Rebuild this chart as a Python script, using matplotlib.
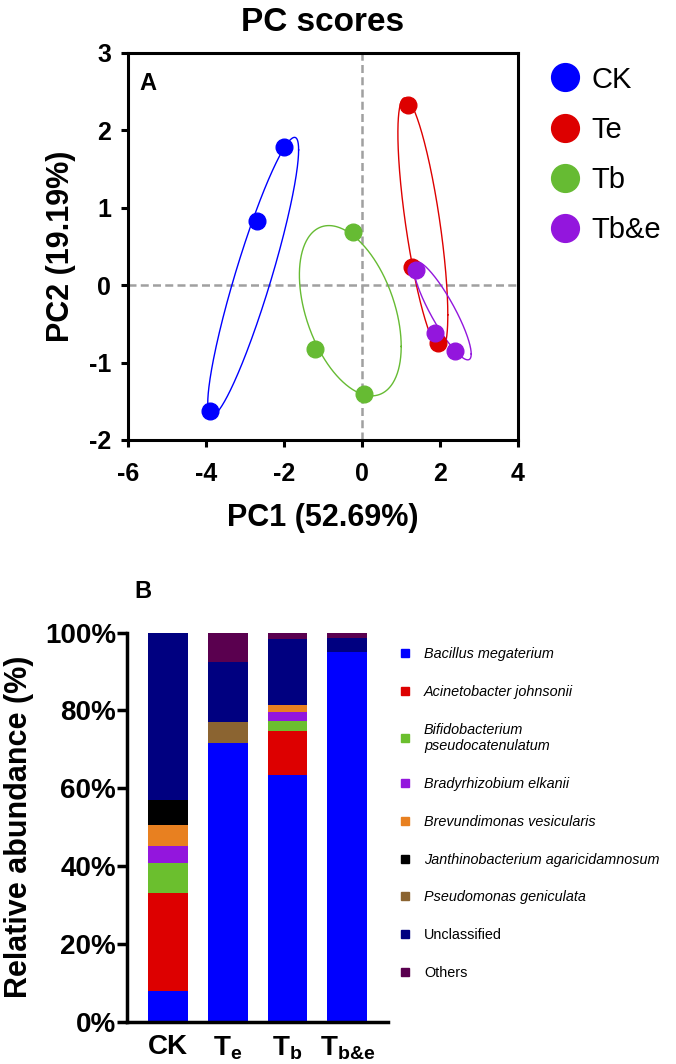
import numpy as np
import matplotlib.pyplot as plt
from matplotlib.lines import Line2D

# ---- data: PCA scores (panel A)
groups = ['CK', 'Te', 'Tb', 'Tb&e']
group_colors = ['#0000FF', '#DD0000', '#66BB33', '#9316DD']
pc1 = {
    'CK': [-1.99, -2.68, -3.90],
    'Te': [1.19, 1.28, 1.96],
    'Tb': [-0.23, -1.21, 0.04],
    'Tb&e': [1.39, 1.88, 2.39],
}
pc2 = {
    'CK': [1.78, 0.83, -1.62],
    'Te': [2.33, 0.24, -0.75],
    'Tb': [0.69, -0.83, -1.40],
    'Tb&e': [0.19, -0.62, -0.85],
}
# ellipses: centre, half extents along x / y, correlation
ell_cx = [-2.79, 1.56, -0.30, 2.06]
ell_cy = [0.11, 0.79, -0.33, -0.33]
ell_sx = [1.165, 0.64, 1.305, 0.74]
ell_sy = [1.80, 1.63, 1.10, 0.635]
ell_r = [0.91, -0.72, -0.42, -0.88]

# ---- data: relative abundance (panel B)
samples = ['CK', r'$\mathbf{T_{e}}$', r'$\mathbf{T_{b}}$', r'$\mathbf{T_{b&e}}$']
taxa = ['Bacillus megaterium', 'Acinetobacter johnsonii',
        'Bifidobacterium\npseudocatenulatum', 'Bradyrhizobium elkanii',
        'Brevundimonas vesicularis', 'Janthinobacterium agaricidamnosum',
        'Pseudomonas geniculata', 'Unclassified', 'Others']
taxa_italic = [True, True, True, True, True, True, True, False, False]
taxa_colors = ['#0000FF', '#DD0000', '#6BBF2E', '#9316DD', '#E88020',
               '#000000', '#8B6431', '#000080', '#5A004F']
abundance = np.array([
    # CK,  Te,   Tb,   Tb&e
    [8.0, 71.7, 63.5, 94.9],
    [25.0, 0.0, 11.3, 0.0],
    [7.7, 0.0, 2.6, 0.0],
    [4.4, 0.0, 2.1, 0.0],
    [5.5, 0.0, 2.0, 0.0],
    [6.5, 0.0, 0.0, 0.0],
    [0.0, 5.4, 0.0, 0.0],
    [42.9, 15.4, 16.8, 3.7],
    [0.0, 7.5, 1.7, 1.4],
])

plt.rcParams['font.family'] = ['Liberation Sans', 'DejaVu Sans']
plt.rcParams['axes.unicode_minus'] = False
plt.rcParams['mathtext.fontset'] = 'custom'
plt.rcParams['mathtext.bf'] = 'Liberation Sans:bold'
plt.rcParams['mathtext.rm'] = 'Liberation Sans:bold'

fig = plt.figure(figsize=(6.76, 10.64), dpi=100)

# ================= panel A
axA = fig.add_axes([0.1893, 0.5865, 0.577, 0.3637])
axA.axhline(0, color='#A0A0A0', lw=1.8, ls=(0, (3.2, 1.7)), zorder=1)
axA.axvline(0, color='#A0A0A0', lw=1.8, ls=(0, (3.2, 1.7)), zorder=1)

t = np.linspace(0, 2 * np.pi, 400)
for i, (g, c) in enumerate(zip(groups, group_colors)):
    axA.plot(pc1[g], pc2[g], 'o', color=c, markersize=12, zorder=4)
    sxy = ell_r[i] * ell_sx[i] * ell_sy[i]
    cov = np.array([[ell_sx[i] ** 2, sxy], [sxy, ell_sy[i] ** 2]])
    L = np.linalg.cholesky(cov)
    pts = np.array([[ell_cx[i]], [ell_cy[i]]]) + L @ np.vstack([np.cos(t), np.sin(t)])
    axA.plot(pts[0], pts[1], color=c, lw=1, zorder=3)

axA.set_xlim(-6, 4)
axA.set_ylim(-2, 3)
axA.set_xticks([-6, -4, -2, 0, 2, 4])
axA.set_yticks([-2, -1, 0, 1, 2, 3])
for s in axA.spines.values():
    s.set_linewidth(2.2)
axA.tick_params(direction='out', length=5, width=2.2)
axA.tick_params(axis='x', pad=11)
axA.tick_params(axis='y', pad=7)
for lab in axA.get_xticklabels() + axA.get_yticklabels():
    lab.set_fontweight('bold')
    lab.set_fontsize(18)
axA.set_xlabel('PC1 (52.69%)', fontweight='bold', fontsize=22, labelpad=12)
axA.set_ylabel('PC2 (19.19%)', fontweight='bold', fontsize=22, labelpad=9)
axA.set_title('PC scores', fontweight='bold', fontsize=24, pad=16)
axA.text(0.052, 0.92, 'A', transform=axA.transAxes,
         fontweight='bold', fontsize=17, va='center', ha='center')

hA = [Line2D([], [], ls='none', marker='o', markersize=20, color=c)
      for c in group_colors]
fig.legend(hA, groups, loc='upper left', bbox_to_anchor=(0.793, 0.952),
           frameon=False, fontsize=21, handlelength=1.0, handletextpad=0.41,
           labelspacing=0.76, borderpad=0)

# ================= panel B
axB = fig.add_axes([0.188, 0.0395, 0.386, 0.366])
xpos = np.arange(len(samples))
bottom = np.zeros(len(samples))
for i, name in enumerate(taxa):
    axB.bar(xpos, abundance[i], 0.667, bottom=bottom,
            color=taxa_colors[i], linewidth=0, label=name)
    bottom += abundance[i]

axB.set_xlim(-0.68, 3.68)
axB.set_ylim(0, 100)
axB.set_yticks([0, 20, 40, 60, 80, 100])
axB.set_yticklabels(['%d%%' % v for v in [0, 20, 40, 60, 80, 100]])
axB.set_xticks(xpos)
axB.set_xticklabels(samples)
axB.spines['top'].set_visible(False)
axB.spines['right'].set_visible(False)
axB.spines['left'].set_linewidth(2.5)
axB.spines['bottom'].set_linewidth(2.5)
axB.tick_params(axis='y', direction='out', length=7, width=2.5, pad=1)
axB.tick_params(axis='x', length=0, pad=9)
for lab in axB.get_xticklabels() + axB.get_yticklabels():
    lab.set_fontweight('bold')
    lab.set_fontsize(20)
axB.set_ylabel('Relative abundance (%)', fontweight='bold', fontsize=22,
               labelpad=8)
axB.text(0.06, 1.105, 'B', transform=axB.transAxes, fontweight='bold',
         fontsize=17, va='center', ha='center')

hB = [Line2D([], [], ls='none', marker='s', markersize=6, color=c)
      for c in taxa_colors]
legB = fig.legend(hB, taxa, loc='upper left', bbox_to_anchor=(0.578, 0.3985),
                  frameon=False, fontsize=10.4, handlelength=1.0,
                  handletextpad=0.8, labelspacing=1.65, borderpad=0)
for txt, it in zip(legB.get_texts(), taxa_italic):
    if it:
        txt.set_fontstyle('italic')

fig.savefig('out.png', dpi=100)
